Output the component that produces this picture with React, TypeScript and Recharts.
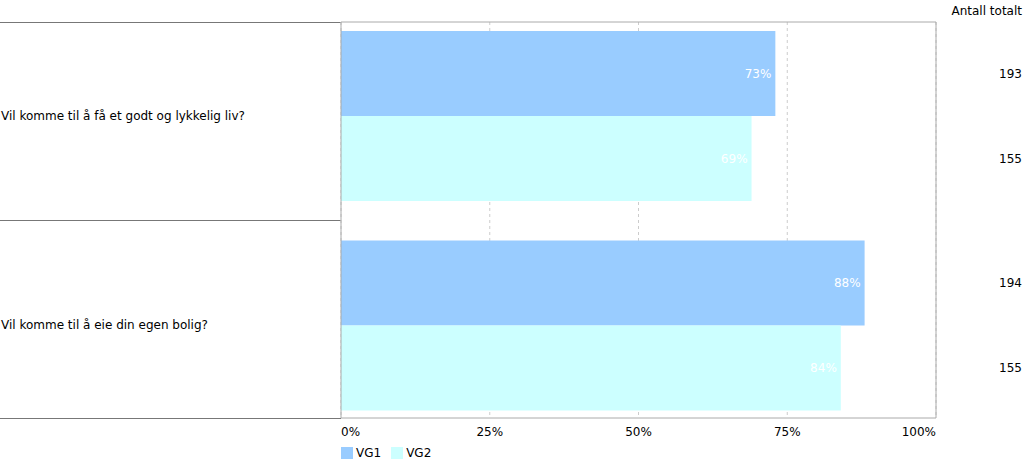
import React from "react";
import {
  BarChart,
  Bar,
  XAxis,
  YAxis,
  CartesianGrid,
  LabelList,
} from "recharts";

const questions = [
  "Vil komme til å få et godt og lykkelig liv?",
  "Vil komme til å eie din egen bolig?",
];
const vg1Values = [73, 88];
const vg2Values = [69, 84];
const vg1Counts = [193, 194];
const vg2Counts = [155, 155];
const seriesNames = ["VG1", "VG2"];
const seriesColors = ["#99ccff", "#ccffff"];
const xTicks = [0, 25, 50, 75, 100];
const countHeader = "Antall totalt";

const data = questions.map((q, i) => ({
  q,
  vg1: vg1Values[i],
  vg2: vg2Values[i],
  vg1n: vg1Counts[i],
  vg2n: vg2Counts[i],
}));

const FONT = "'DejaVu Sans', Verdana, sans-serif";
const FS = 12;
const W = 1024;
const H = 463;

const XTick = (props: any) => {
  const { x, y, payload, index } = props;
  const anchor = index === 0 ? "start" : index === xTicks.length - 1 ? "end" : "middle";
  return (
    <text x={x} y={y + 10} textAnchor={anchor} fontSize={FS} fontFamily={FONT} fill="#000">
      {payload.value}%
    </text>
  );
};

const YTick = (props: any) => {
  const { y, payload } = props;
  return (
    <text x={1} y={y} dy={4} textAnchor="start" fontSize={FS} fontFamily={FONT} fill="#000">
      {payload.value}
    </text>
  );
};

const CountLabel = (props: any) => {
  const { y, height, value } = props;
  return (
    <text x={W - 2} y={y + height / 2} dy={4} textAnchor="end" fontSize={FS} fontFamily={FONT} fill="#000">
      {value}
    </text>
  );
};

const PctLabel = (props: any) => {
  const { x, y, width, height, value } = props;
  return (
    <text x={x + width - 4} y={y + height / 2} dy={4} textAnchor="end" fontSize={FS} fontFamily={FONT} fill="#ffffff">
      {value}%
    </text>
  );
};

const PLOT_LEFT = 341;
const PLOT_TOP = 22;
const PLOT_BOTTOM = 418;

export default function App() {
  return (
    <div style={{ position: "absolute", left: 0, top: 0, width: W, height: H, background: "#fff", fontFamily: FONT }}>
      {/* left table frame */}
      <div style={{ position: "absolute", left: 0, top: PLOT_TOP, width: PLOT_LEFT, height: PLOT_BOTTOM - PLOT_TOP + 1, borderTop: "1px solid #777", borderBottom: "1px solid #777", boxSizing: "border-box" }} />
      <div style={{ position: "absolute", left: 0, top: (PLOT_TOP + PLOT_BOTTOM) / 2, width: PLOT_LEFT, height: 0, borderTop: "1px solid #777" }} />
      <BarChart
        width={W}
        height={H}
        data={data}
        layout="vertical"
        margin={{ top: PLOT_TOP - 1, right: 87, bottom: H - PLOT_BOTTOM - 30, left: 0 }}
        barCategoryGap={20}
        barGap={0}
        style={{ position: "absolute", left: 0, top: 0 }}
      >
        <CartesianGrid horizontal={false} vertical={true} stroke="#cccccc" strokeDasharray="3 3" />
        <XAxis
          type="number"
          domain={[0, 100]}
          ticks={xTicks}
          tick={<XTick />}
          tickLine={false}
          height={30}
          axisLine={{ stroke: "#aaaaaa" }}
          interval={0}
        />
        <XAxis
          xAxisId="top"
          orientation="top"
          type="number"
          domain={[0, 100]}
          ticks={xTicks}
          tick={false}
          tickLine={false}
          height={1}
          axisLine={{ stroke: "#aaaaaa" }}
        />
        <YAxis
          type="category"
          dataKey="q"
          width={PLOT_LEFT}
          tick={<YTick />}
          tickLine={false}
          axisLine={{ stroke: "#aaaaaa" }}
          padding={{ top: -11, bottom: -12 }}
        />
        <YAxis
          yAxisId="right"
          orientation="right"
          type="category"
          dataKey="q"
          width={1}
          tick={false}
          tickLine={false}
          axisLine={{ stroke: "#aaaaaa" }}
        />
        <Bar dataKey="vg1" name={seriesNames[0]} fill={seriesColors[0]} isAnimationActive={false}>
          <LabelList dataKey="vg1" content={<PctLabel />} />
          <LabelList dataKey="vg1n" content={<CountLabel />} />
        </Bar>
        <Bar dataKey="vg2" name={seriesNames[1]} fill={seriesColors[1]} isAnimationActive={false}>
          <LabelList dataKey="vg2" content={<PctLabel />} />
          <LabelList dataKey="vg2n" content={<CountLabel />} />
        </Bar>
      </BarChart>
      <div style={{ position: "absolute", right: 2, top: 4, fontSize: FS, fontFamily: FONT, color: "#000" }}>{countHeader}</div>
      <div style={{ position: "absolute", left: PLOT_LEFT, top: 446, display: "flex", alignItems: "center", fontSize: FS, fontFamily: FONT }}>
        {seriesNames.map((n, i) => (
          <div key={n} style={{ display: "flex", alignItems: "center", marginRight: 10 }}>
            <div style={{ width: 12, height: 12, background: seriesColors[i], marginRight: 3 }} />
            <span>{n}</span>
          </div>
        ))}
      </div>
    </div>
  );
}
